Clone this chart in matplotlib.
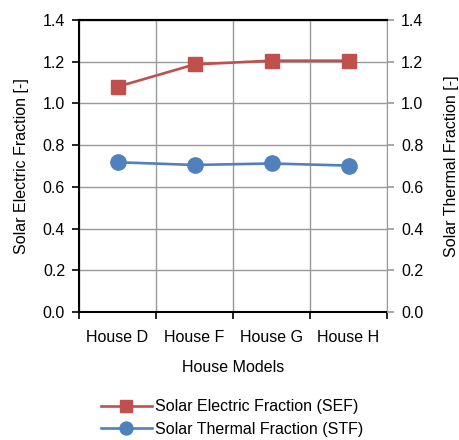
import matplotlib
matplotlib.use("Agg")
import matplotlib.pyplot as plt
import numpy as np

plt.rcParams['font.family'] = ['Liberation Sans', 'DejaVu Sans']

houses = ["House D", "House F", "House G", "House H"]
sef = [1.08, 1.187, 1.205, 1.205]
stf = [0.718, 0.705, 0.712, 0.702]
yticks = [0.0, 0.2, 0.4, 0.6, 0.8, 1.0, 1.2, 1.4]

W, H = 459, 440
fig = plt.figure(figsize=(W/100, H/100), dpi=100)
ax = fig.add_axes([79/W, 1-312/H, (387-79)/W, (312-20)/H])
x = np.arange(len(houses))
red = '#C0504D'
blue = '#4F81BD'
fs = 11.5
l1, = ax.plot(x, sef, color=red, lw=1.9, marker='s', ms=9.5, label='Solar Electric Fraction (SEF)')
ax2 = ax.twinx()
l2, = ax2.plot(x, stf, color=blue, lw=1.9, marker='o', ms=11, label='Solar Thermal Fraction (STF)')
for a in (ax, ax2):
    a.set_ylim(0, 1.4)
    a.set_xlim(-0.5, len(houses)-0.5)
    a.set_yticks(yticks)
    a.set_yticklabels([f"{v:.1f}" for v in yticks], fontsize=fs)
ax.set_xticks(x)
ax.set_xticklabels(houses, fontsize=fs)
ax.tick_params(axis='x', length=0, pad=13)
ax.set_xticks(np.arange(-0.5, len(houses)), minor=True)
ax.tick_params(axis='x', which='minor', length=5, width=1.2, color='black')
ax.grid(True, which='minor', axis='x', color='#999999', lw=1)
ax.grid(True, which='major', axis='y', color='#999999', lw=1)
ax.set_axisbelow(True)
ax.tick_params(axis='y', length=5, width=1.2, color='black', pad=5)
ax2.tick_params(axis='y', length=5, width=1.2, color='#999999', pad=5)
for s in ['left', 'bottom', 'top']:
    ax.spines[s].set_linewidth(1.5)
ax.spines['right'].set_visible(False)
ax2.spines['right'].set_color('#999999')
ax2.spines['left'].set_visible(False)
ax2.spines['top'].set_linewidth(1.5)
ax2.spines['bottom'].set_visible(False)
ax.set_ylabel('Solar Electric Fraction [-]', fontsize=fs, labelpad=10)
ax2.set_ylabel('Solar Thermal Fraction [-]', fontsize=fs, labelpad=15)
ax.set_xlabel('House Models', fontsize=fs, labelpad=11)
fig.legend([l1, l2], [l1.get_label(), l2.get_label()], loc='center', bbox_to_anchor=(232/W, 1-418/H),
           frameon=False, fontsize=fs, handlelength=3.2, labelspacing=0.45, handletextpad=0.2,
           markerscale=0.85)
fig.savefig('out.png', dpi=100)
